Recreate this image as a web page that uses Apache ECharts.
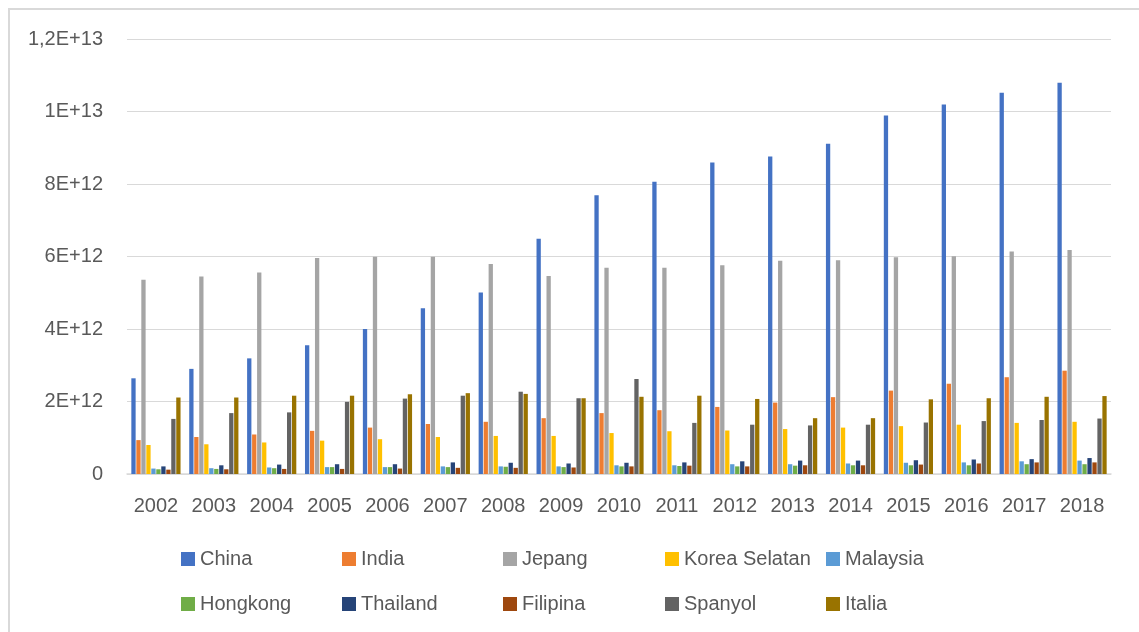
<!DOCTYPE html>
<html>
<head>
<meta charset="utf-8">
<script src="https://cdn.jsdelivr.net/npm/echarts@6/dist/echarts.min.js"></script>
<style>
html,body{margin:0;padding:0;background:#fff;}
#frame{position:absolute;left:8px;top:8px;width:1200px;height:700px;border-left:2px solid #d9d9d9;border-top:2px solid #d9d9d9;box-sizing:border-box;}
#chart{position:absolute;left:0;top:0;width:1139px;height:632px;}
</style>
</head>
<body>
<div id="frame"></div>
<div id="chart"></div>
<script>
// Values in units of 1E+12
const UNIT = 1e12;
const years = ['2002','2003','2004','2005','2006','2007','2008','2009','2010','2011','2012','2013','2014','2015','2016','2017','2018'];
const china    = [2.64, 2.90, 3.19, 3.55, 4.00, 4.57, 5.01, 6.49, 7.69, 8.06, 8.59, 8.76, 9.11, 9.89, 10.19, 10.52, 10.79];
const india    = [0.935, 1.02, 1.09, 1.19, 1.28, 1.38, 1.44, 1.54, 1.68, 1.76, 1.85, 1.97, 2.12, 2.30, 2.49, 2.67, 2.85];
const jepang   = [5.36, 5.45, 5.56, 5.96, 5.99, 5.99, 5.79, 5.46, 5.69, 5.69, 5.76, 5.88, 5.90, 5.98, 6.01, 6.14, 6.18];
const korea    = [0.80, 0.82, 0.87, 0.92, 0.96, 1.02, 1.05, 1.05, 1.13, 1.18, 1.20, 1.24, 1.28, 1.32, 1.36, 1.41, 1.44];
const malaysia = [0.15, 0.16, 0.18, 0.19, 0.19, 0.21, 0.21, 0.21, 0.24, 0.24, 0.27, 0.27, 0.29, 0.31, 0.32, 0.35, 0.37];
const hongkong = [0.13, 0.14, 0.16, 0.19, 0.19, 0.19, 0.20, 0.19, 0.21, 0.22, 0.21, 0.23, 0.24, 0.24, 0.24, 0.27, 0.27];
const thailand = [0.21, 0.24, 0.26, 0.27, 0.27, 0.32, 0.31, 0.29, 0.31, 0.32, 0.35, 0.37, 0.37, 0.38, 0.40, 0.41, 0.44];
const filipina = [0.12, 0.13, 0.14, 0.14, 0.15, 0.17, 0.17, 0.18, 0.21, 0.23, 0.21, 0.24, 0.24, 0.26, 0.29, 0.32, 0.32];
const spanyol  = [1.52, 1.68, 1.70, 1.99, 2.08, 2.16, 2.27, 2.09, 2.62, 1.41, 1.36, 1.34, 1.36, 1.42, 1.46, 1.49, 1.53];
const italia   = [2.11, 2.11, 2.16, 2.16, 2.20, 2.23, 2.21, 2.09, 2.13, 2.16, 2.07, 1.54, 1.54, 2.06, 2.09, 2.13, 2.15];
const seriesNames = ['China','India','Jepang','Korea Selatan','Malaysia','Hongkong','Thailand','Filipina','Spanyol','Italia'];
const seriesValues = [china, india, jepang, korea, malaysia, hongkong, thailand, filipina, spanyol, italia];
const colors = ['#4472C4','#ED7D31','#A5A5A5','#FFC000','#5B9BD5','#70AD47','#264478','#9E480E','#636363','#997300'];
const yTickLabels = ['0','2E+12','4E+12','6E+12','8E+12','1E+13','1,2E+13'];
const Y_INTERVAL = 2e12;

const legendX = [181, 342, 503, 665, 826];
const legendY = [549, 594];

const chart = echarts.init(document.getElementById('chart'));
const txt = '#595959';
const font = 'Liberation Sans, Arial, sans-serif';

const legends = seriesNames.map((n, i) => ({
  data: [n],
  left: legendX[i % 5],
  top: legendY[Math.floor(i / 5)],
  padding: 0,
  itemWidth: 14,
  itemHeight: 14,
  icon: 'rect',
  selectedMode: false,
  textStyle: {fontSize: 20, color: txt, fontFamily: font}
}));

chart.setOption({
  animation: false,
  color: colors,
  legend: legends,
  grid: {left: 127, right: 28, top: 39, bottom: 158, containLabel: false},
  xAxis: {
    type: 'category',
    data: years,
    axisTick: {show: false},
    axisLine: {lineStyle: {color: '#d9d9d9', width: 1.5}},
    axisLabel: {fontSize: 20, color: txt, fontFamily: font, margin: 22, interval: 0}
  },
  yAxis: {
    type: 'value',
    min: 0,
    max: 1.2e13,
    interval: Y_INTERVAL,
    axisLine: {show: false},
    axisTick: {show: false},
    splitLine: {lineStyle: {color: '#d9d9d9', width: 1}},
    axisLabel: {
      fontSize: 20, color: txt, fontFamily: font, margin: 24,
      formatter: v => yTickLabels[Math.round(v / Y_INTERVAL)]
    }
  },
  series: seriesNames.map((n, i) => ({
    name: n,
    type: 'bar',
    data: seriesValues[i].map(v => v * UNIT),
    barCategoryGap: '15%',
    barGap: '16%',
    itemStyle: {color: colors[i]}
  }))
});
</script>
</body>
</html>
